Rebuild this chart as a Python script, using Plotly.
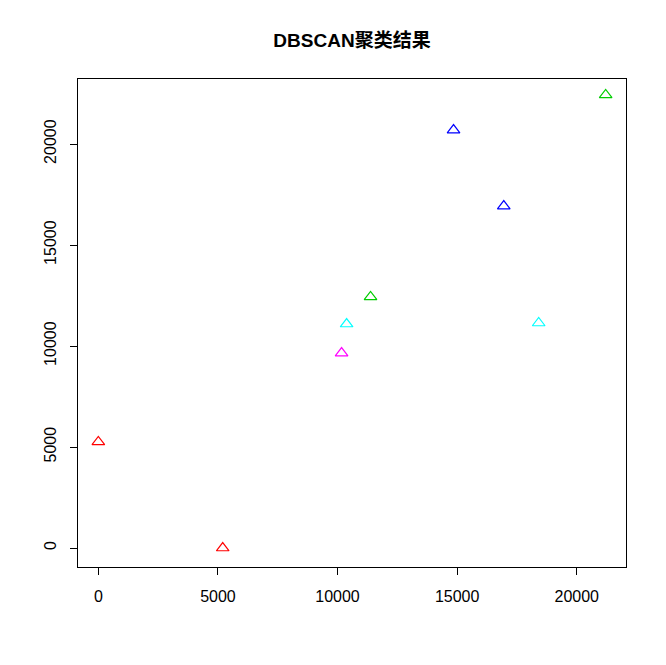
import plotly.graph_objects as go

# DBSCAN cluster points
x_vals = [0, 5200, 10170, 10380, 11380, 14850, 16950, 18410, 21210]
y_vals = [5250, 0, 9650, 11090, 12430, 20690, 16930, 11140, 22430]
clusters = [1, 1, 5, 4, 2, 3, 3, 4, 2]

tick_vals = [0, 5000, 10000, 15000, 20000]
tick_text = ["0", "5000", "10000", "15000", "20000"]

# R's classic palette, indexed by cluster + 1
palette = ["#000000", "#FF0000", "#00CD00", "#0000FF", "#00FFFF", "#FF00FF"]

fig = go.Figure()

fig.add_trace(
    go.Scatter(
        x=x_vals,
        y=y_vals,
        mode="markers",
        marker=dict(
            symbol="triangle-up-open",
            size=11,
            color=[palette[c] for c in clusters],
            line=dict(width=1.2),
        ),
        showlegend=False,
        hoverinfo="x+y",
    )
)

axis_common = dict(
    tickmode="array",
    tickvals=tick_vals,
    ticktext=tick_text,
    showgrid=False,
    zeroline=False,
    showline=True,
    mirror=True,
    linecolor="black",
    linewidth=1,
    ticks="outside",
    ticklen=7,
    tickcolor="black",
    tickfont=dict(family="Liberation Sans, Arial, sans-serif", size=16, color="black"),
)

fig.update_xaxes(range=[-850, 22060], ticklabelstandoff=8, **axis_common)
fig.update_yaxes(range=[-940, 23220], tickangle=-90, ticklabelstandoff=8, **axis_common)

# page body adds an 8px offset, so margins are pulled in by that much
fig.update_layout(
    width=666,
    height=665,
    margin=dict(l=70, r=48, t=71, b=106),
    paper_bgcolor="white",
    plot_bgcolor="white",
    title=dict(
        text="<b>DBSCAN聚类结果</b>",
        x=(70 + 618) / 2 / 666,
        xanchor="center",
        y=1 - 32 / 665,
        yanchor="middle",
        font=dict(family="Liberation Sans, Noto Sans CJK SC, sans-serif", size=19, color="black"),
    ),
)

fig.write_html("out.html")
